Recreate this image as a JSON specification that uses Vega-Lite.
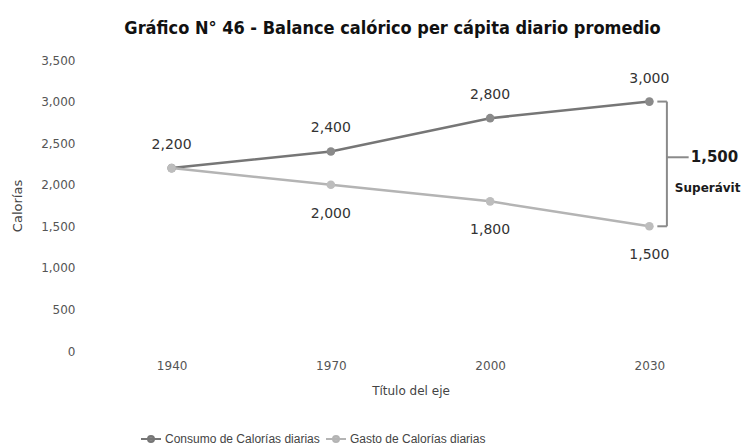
{
  "$schema": "https://vega.github.io/schema/vega-lite/v6.json",
  "width": 637,
  "height": 291,
  "autosize": {"type": "none"},
  "padding": {"left": 92, "top": 60, "right": 25, "bottom": 97},
  "background": "white",
  "title": {
    "text": "Gráfico N° 46 - Balance calórico per cápita diario promedio",
    "font": "Liberation Sans Narrow, DejaVu Sans Condensed, Liberation Sans",
    "fontSize": 18,
    "fontWeight": "bold",
    "color": "#111111",
    "anchor": "middle",
    "dx": -18,
    "offset": 16
  },
  "config": {
    "view": {"stroke": null},
    "font": "DejaVu Sans",
    "axis": {"labelColor": "#555555", "titleColor": "#444444", "labelFont": "DejaVu Sans", "titleFont": "DejaVu Sans", "labelFontSize": 12, "titleFontSize": 12, "titleFontWeight": "normal", "grid": false, "domain": false, "ticks": false}
  },
  "datasets": {
    "series": [
      {"anio": 1940, "serie": "Consumo de Calorías diarias", "valor": 2200},
      {"anio": 1970, "serie": "Consumo de Calorías diarias", "valor": 2400},
      {"anio": 2000, "serie": "Consumo de Calorías diarias", "valor": 2800},
      {"anio": 2030, "serie": "Consumo de Calorías diarias", "valor": 3000},
      {"anio": 1940, "serie": "Gasto de Calorías diarias", "valor": 2200},
      {"anio": 1970, "serie": "Gasto de Calorías diarias", "valor": 2000},
      {"anio": 2000, "serie": "Gasto de Calorías diarias", "valor": 1800},
      {"anio": 2030, "serie": "Gasto de Calorías diarias", "valor": 1500}
    ],
    "bracket": [
      {"x": 2033.3, "x2": 2033.3, "y": 3000, "y2": 1500},
      {"x": 2031.5, "x2": 2033.3, "y": 3000, "y2": 3000},
      {"x": 2031.5, "x2": 2033.3, "y": 1500, "y2": 1500},
      {"x": 2033.3, "x2": 2037.4, "y": 2330, "y2": 2330}
    ],
    "notes": [
      {"x": 2037.8, "y": 2330, "texto": "1,500", "tam": 15},
      {"x": 2034.8, "y": 1960, "texto": "Superávit", "tam": 12}
    ]
  },
  "layer": [
    {
      "data": {"name": "series"},
      "mark": {"type": "line", "strokeWidth": 2.5},
      "encoding": {
        "x": {
          "field": "anio", "type": "quantitative",
          "scale": {"domain": [1925, 2045], "nice": false, "zero": false},
          "axis": {"values": [1940, 1970, 2000, 2030], "format": "d", "title": "Título del eje", "labelPadding": 9, "titlePadding": 14}
        },
        "y": {
          "field": "valor", "type": "quantitative",
          "scale": {"domain": [0, 3500], "nice": false},
          "axis": {"values": [0, 500, 1000, 1500, 2000, 2500, 3000, 3500], "format": ",d", "formatType": "number", "title": "Calorías", "titleFontSize": 13, "labelPadding": 17, "titlePadding": 16}
        },
        "color": {
          "field": "serie", "type": "nominal",
          "scale": {"domain": ["Consumo de Calorías diarias", "Gasto de Calorías diarias"], "range": ["#767676", "#b4b4b4"]},
          "legend": {
            "title": null,
            "orient": "none",
            "legendX": 48,
            "legendY": 368,
            "direction": "horizontal",
            "symbolType": "M-1,0H1M-0.3,0A0.3,0.3,0,1,0,0.3,0A0.3,0.3,0,1,0,-0.3,0Z",
            "symbolSize": 400,
            "symbolStrokeWidth": 2,
            "labelFont": "Liberation Sans",
            "labelFontSize": 12,
            "labelColor": "#444444",
            "labelLimit": 300,
            "columnPadding": 2,
            "labelOffset": 3
          }
        }
      }
    },
    {
      "data": {"name": "series"},
      "mark": {"type": "point", "filled": true, "size": 75, "opacity": 1},
      "encoding": {
        "x": {"field": "anio", "type": "quantitative"},
        "y": {"field": "valor", "type": "quantitative"},
        "fill": {
          "field": "serie", "type": "nominal",
          "scale": {"domain": ["Consumo de Calorías diarias", "Gasto de Calorías diarias"], "range": ["#8a8a8a", "#bdbdbd"]},
          "legend": null
        }
      }
    },
    {
      "data": {"name": "series"},
      "transform": [{"filter": "datum.serie === 'Consumo de Calorías diarias'"}],
      "mark": {"type": "text", "dy": -23, "fontSize": 14, "color": "#333333"},
      "encoding": {
        "x": {"field": "anio", "type": "quantitative"},
        "y": {"field": "valor", "type": "quantitative"},
        "text": {"field": "valor", "type": "quantitative", "format": ","}
      }
    },
    {
      "data": {"name": "series"},
      "transform": [{"filter": "datum.serie === 'Gasto de Calorías diarias' && datum.anio > 1940"}],
      "mark": {"type": "text", "dy": 29, "fontSize": 14, "color": "#333333"},
      "encoding": {
        "x": {"field": "anio", "type": "quantitative"},
        "y": {"field": "valor", "type": "quantitative"},
        "text": {"field": "valor", "type": "quantitative", "format": ","}
      }
    },
    {
      "data": {"name": "bracket"},
      "mark": {"type": "rule", "color": "#8a8a8a", "strokeWidth": 2},
      "encoding": {
        "x": {"field": "x", "type": "quantitative"},
        "x2": {"field": "x2"},
        "y": {"field": "y", "type": "quantitative"},
        "y2": {"field": "y2"}
      }
    },
    {
      "data": {"name": "notes"},
      "mark": {"type": "text", "align": "left", "baseline": "middle", "fontWeight": "bold", "color": "#1a1a1a"},
      "encoding": {
        "x": {"field": "x", "type": "quantitative"},
        "y": {"field": "y", "type": "quantitative"},
        "text": {"field": "texto"},
        "size": {"field": "tam", "type": "quantitative", "scale": null, "legend": null}
      }
    }
  ]
}
